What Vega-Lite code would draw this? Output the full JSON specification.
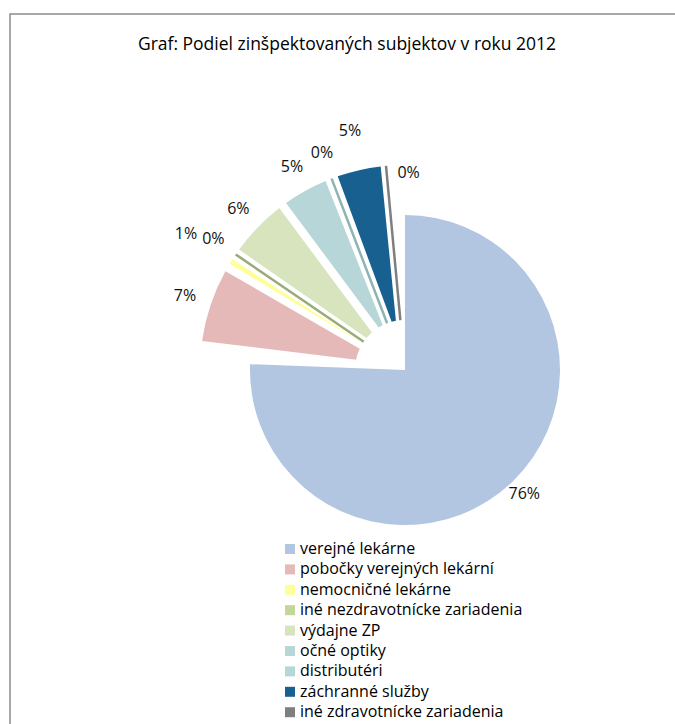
{
  "$schema": "https://vega.github.io/schema/vega-lite/v6.json",
  "autosize": {"type": "none"},
  "padding": {"left": 10, "top": 14, "right": -125, "bottom": -2},
  "width": 790,
  "height": 712,
  "background": "white",
  "view": {"stroke": "#8c8c8c", "strokeWidth": 1.5, "strokeDash": [790, 1502, 712]},
  "title": {
    "text": "Graf: Podiel zinšpektovaných subjektov v roku 2012",
    "font": "Open Sans",
    "fontSize": 17.5,
    "fontWeight": "normal",
    "color": "#000000",
    "anchor": "middle",
    "dx": -58,
    "offset": -39
  },
  "data": {
    "values": [
      {"kat": "verejné lekárne", "share": 0.756, "ord": 1},
      {"kat": "pobočky verejných lekární", "share": 0.072, "ord": 2},
      {"kat": "nemocničné lekárne", "share": 0.012, "ord": 3},
      {"kat": "iné nezdravotnícke zariadenia", "share": 0.003, "ord": 4},
      {"kat": "výdajne ZP", "share": 0.058, "ord": 5},
      {"kat": "očné optiky", "share": 0.047, "ord": 6},
      {"kat": "distributéri", "share": 0.004, "ord": 7},
      {"kat": "záchranné služby", "share": 0.046, "ord": 8},
      {"kat": "iné zdravotnícke zariadenia", "share": 0.002, "ord": 9}
    ]
  },
  "resolve": {"scale": {"theta": "independent"}},
  "layer": [
    {
      "mark": {"type": "arc", "outerRadius": 155},
      "encoding": {
        "theta": {"field": "share", "type": "quantitative", "stack": true, "scale": {"domain": [0, 1]}},
        "order": {"field": "ord", "type": "quantitative"},
        "color": {
          "field": "kat",
          "type": "nominal",
          "scale": {
            "domain": ["verejné lekárne", "pobočky verejných lekární", "nemocničné lekárne", "iné nezdravotnícke zariadenia", "výdajne ZP", "očné optiky", "distributéri", "záchranné služby", "iné zdravotnícke zariadenia"],
            "range": ["#b3c6e1", "#e5b9b7", "#ffff99", "#c3d69b", "#d7e4bd", "#b7d6d8", "#b7d6d8", "#17608f", "#7f7f7f"]
          },
          "legend": {
            "orient": "none",
            "legendX": 272,
            "legendY": 527,
            "title": null,
            "symbolType": "square",
            "symbolSize": 100,
            "symbolOpacity": 1,
            "symbolStrokeWidth": 0,
            "labelFont": "Open Sans",
            "labelFontSize": 16,
            "labelColor": "#000000",
            "labelOffset": 2,
            "labelLimit": 400,
            "rowPadding": 4.4,
            "padding": 0
          }
        },
        "fillOpacity": {"condition": {"test": "datum.ord === 1", "value": 1}, "value": 0}
      }
    },
    {
      "mark": {"type": "arc", "innerRadius": 50, "outerRadius": 205, "padAngle": 0.04},
      "encoding": {
        "theta": {"field": "share", "type": "quantitative", "stack": true, "scale": {"domain": [0, 1], "range": [0.615, 6.196]}},
        "order": {"field": "ord", "type": "quantitative"},
        "color": {
          "field": "kat",
          "type": "nominal",
          "scale": {
            "domain": ["verejné lekárne", "pobočky verejných lekární", "nemocničné lekárne", "iné nezdravotnícke zariadenia", "výdajne ZP", "očné optiky", "distributéri", "záchranné služby", "iné zdravotnícke zariadenia"],
            "range": ["#b3c6e1", "#e5b9b7", "#ffff99", "#c3d69b", "#d7e4bd", "#b7d6d8", "#b7d6d8", "#17608f", "#7f7f7f"]
          },
          "legend": {
            "orient": "none",
            "legendX": 272,
            "legendY": 527,
            "title": null,
            "symbolType": "square",
            "symbolSize": 100,
            "symbolOpacity": 1,
            "symbolStrokeWidth": 0,
            "labelFont": "Open Sans",
            "labelFontSize": 16,
            "labelColor": "#000000",
            "labelOffset": 2,
            "labelLimit": 400,
            "rowPadding": 4.4,
            "padding": 0
          }
        },
        "stroke": {
          "field": "kat",
          "type": "nominal",
          "scale": {
            "domain": ["verejné lekárne", "pobočky verejných lekární", "nemocničné lekárne", "iné nezdravotnícke zariadenia", "výdajne ZP", "očné optiky", "distributéri", "záchranné služby", "iné zdravotnícke zariadenia"],
            "range": ["#b3c6e1", "#e5b9b7", "#ffff99", "#9aab78", "#d7e4bd", "#8fb3b5", "#8fb3b5", "#17608f", "#7f7f7f"]
          },
          "legend": null
        },
        "strokeWidth": {"condition": {"test": "datum.share < 0.005 && datum.ord !== 1", "value": 2.5}, "value": 0},
        "fillOpacity": {"condition": {"test": "datum.ord === 1", "value": 0}, "value": 1}
      }
    },
    {
      "mark": {"type": "text", "radius": 172, "font": "Open Sans", "fontSize": 16, "color": "#111111"},
      "encoding": {
        "theta": {"field": "share", "type": "quantitative", "stack": true, "scale": {"domain": [0, 1]}},
        "order": {"field": "ord", "type": "quantitative"},
        "text": {"field": "share", "type": "quantitative", "format": ".0%"},
        "opacity": {"condition": {"test": "datum.ord === 1", "value": 1}, "value": 0}
      }
    },
    {
      "mark": {"type": "text", "radius": 232, "font": "Open Sans", "fontSize": 16, "color": "#111111"},
      "encoding": {
        "theta": {"field": "share", "type": "quantitative", "stack": true, "scale": {"domain": [0, 1], "range": [0.615, 6.196]}},
        "order": {"field": "ord", "type": "quantitative"},
        "text": {"field": "share", "type": "quantitative", "format": ".0%"},
        "opacity": {"condition": {"test": "indexof([2,4,5,6,7], datum.ord) >= 0", "value": 1}, "value": 0}
      }
    },
    {
      "mark": {"type": "text", "radius": 245, "font": "Open Sans", "fontSize": 16, "color": "#111111"},
      "encoding": {
        "theta": {"field": "share", "type": "quantitative", "stack": true, "scale": {"domain": [0, 1], "range": [0.615, 6.196]}},
        "order": {"field": "ord", "type": "quantitative"},
        "text": {"field": "share", "type": "quantitative", "format": ".0%"},
        "opacity": {"condition": {"test": "datum.ord === 8", "value": 1}, "value": 0}
      }
    },
    {
      "mark": {"type": "text", "radius": 258, "font": "Open Sans", "fontSize": 16, "color": "#111111"},
      "encoding": {
        "theta": {"field": "share", "type": "quantitative", "stack": true, "scale": {"domain": [0, 1], "range": [0.615, 6.196]}},
        "order": {"field": "ord", "type": "quantitative"},
        "text": {"field": "share", "type": "quantitative", "format": ".0%"},
        "opacity": {"condition": {"test": "datum.ord === 3", "value": 1}, "value": 0}
      }
    },
    {
      "mark": {"type": "text", "radius": 198, "dx": 22, "font": "Open Sans", "fontSize": 16, "color": "#111111"},
      "encoding": {
        "theta": {"field": "share", "type": "quantitative", "stack": true, "scale": {"domain": [0, 1], "range": [0.615, 6.196]}},
        "order": {"field": "ord", "type": "quantitative"},
        "text": {"field": "share", "type": "quantitative", "format": ".0%"},
        "opacity": {"condition": {"test": "datum.ord === 9", "value": 1}, "value": 0}
      }
    }
  ],
  "config": {
    "font": "Open Sans",
    "view": {"stroke": "#8c8c8c", "strokeWidth": 1.5, "strokeDash": [790, 1502, 712]}
  }
}
